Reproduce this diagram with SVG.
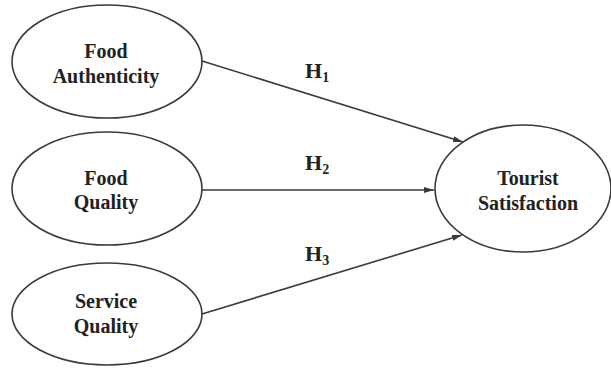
<svg xmlns="http://www.w3.org/2000/svg" width="611" height="368" viewBox="0 0 611 368">
<style>
.n{fill:#fff;stroke:#3a3a3a;stroke-width:1.6}
.t{font-family:"Liberation Serif","Times New Roman",serif;font-weight:bold;font-size:20px;fill:#222;text-anchor:middle}
.h{font-family:"Liberation Serif","Times New Roman",serif;font-weight:bold;font-size:22px;fill:#222}
.c{stroke:#3a3a3a;stroke-width:1.6;fill:none;marker-end:url(#a)}
</style>
<defs>
<marker id="a" viewBox="0 0 10 6" refX="10" refY="3" markerWidth="10" markerHeight="6" markerUnits="userSpaceOnUse" orient="auto">
<path d="M0,0 L10,3 L0,6 Z" fill="#3a3a3a"/>
</marker>
</defs>
<rect width="611" height="368" fill="#fff"/>
<g id="connectors">
<line class="c" x1="202" y1="61" x2="463" y2="142"/>
<line class="c" x1="202" y1="190" x2="434" y2="190"/>
<line class="c" x1="202" y1="314" x2="462" y2="235"/>
<text class="h" x="305" y="78">H<tspan font-size="14" dy="4">1</tspan></text>
<text class="h" x="305" y="170">H<tspan font-size="14" dy="4">2</tspan></text>
<text class="h" x="305" y="261">H<tspan font-size="14" dy="4">3</tspan></text>
</g>
<g id="food-authenticity">
<ellipse class="n" cx="107" cy="61.5" rx="95" ry="56.5"/>
<text class="t" x="106" y="58">Food</text>
<text class="t" x="106" y="83">Authenticity</text>
</g>
<g id="food-quality">
<ellipse class="n" cx="107" cy="188.5" rx="95" ry="56.5"/>
<text class="t" x="106" y="185">Food</text>
<text class="t" x="106" y="209">Quality</text>
</g>
<g id="service-quality">
<ellipse class="n" cx="107" cy="314" rx="95" ry="51"/>
<text class="t" x="106" y="308">Service</text>
<text class="t" x="106" y="333">Quality</text>
</g>
<g id="tourist-satisfaction">
<ellipse class="n" cx="523" cy="188.5" rx="88" ry="63.5"/>
<text class="t" x="528" y="185">Tourist</text>
<text class="t" x="528" y="210">Satisfaction</text>
</g>
</svg>
